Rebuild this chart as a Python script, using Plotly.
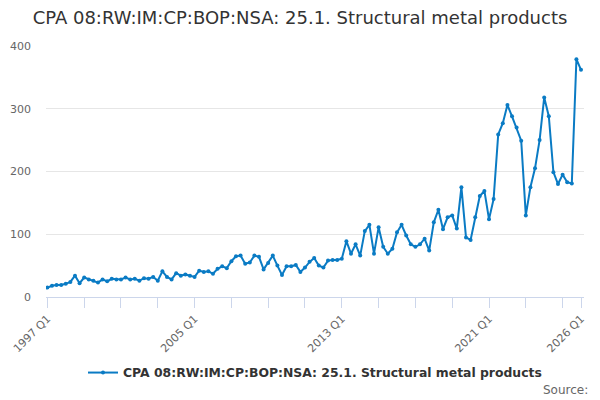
import plotly.graph_objects as go

# quarterly values, 1997 Q1 .. 2026 Q1
values = [
    15, 18, 19, 19, 21, 24, 34, 22, 31, 28,
    26, 23, 28, 25, 29, 28, 28, 31, 28, 29,
    26, 30, 29, 32, 26, 41, 32, 28, 38, 34,
    36, 34, 32, 42, 40, 41, 37, 45, 49, 46,
    57, 65, 66, 53, 55, 66, 64, 44, 54, 66,
    50, 35, 49, 49, 51, 40, 47, 56, 62, 50,
    47, 58, 59, 59, 61, 89, 69, 84, 66, 105,
    115, 69, 111, 80, 69, 77, 103, 115, 98, 84,
    80, 84, 93, 74, 119, 139, 108, 127, 130, 109,
    175, 95, 91, 127, 161, 169, 124, 156, 259, 277,
    306, 288, 270, 249, 130, 175, 205, 250, 318, 288,
    199, 180, 195, 183, 181, 379, 362,
]
start_year = 1997
quarters = [f"{start_year + i // 4} Q{i % 4 + 1}" for i in range(len(values))]
label_quarters = ["1997 Q1", "2005 Q1", "2013 Q1", "2021 Q1", "2026 Q1"]
series_name = "CPA 08:RW:IM:CP:BOP:NSA: 25.1. Structural metal products"

x = list(range(len(values)))
tick_pos = list(range(0, len(values), 8)) + [len(values) - 1]
tick_txt = [quarters[i] if quarters[i] in label_quarters else "" for i in tick_pos]

fig = go.Figure()
fig.add_trace(go.Scatter(
    x=x, y=values, name=series_name, mode="lines+markers",
    line=dict(color="#0a7bc4", width=2),
    marker=dict(color="#0a7bc4", size=4),
))

fig.update_layout(
    width=600, height=400,
    margin=dict(l=46, r=16, t=46, b=103, autoexpand=False),
    paper_bgcolor="white", plot_bgcolor="white",
    font=dict(family="DejaVu Sans", color="#666666", size=11),
    title=dict(text=series_name, x=0.5, xanchor="center",
               yref="container", y=1 - 18 / 400, yanchor="middle",
               font=dict(size=18, color="#333333")),
    showlegend=True,
    legend=dict(orientation="h", x=0.5, xanchor="center",
                yref="container", y=1 - 373 / 400, yanchor="middle",
                itemwidth=30,
                font=dict(size=12.4, color="#333333", weight="bold")),
)
fig.update_xaxes(
    range=[-0.3, len(values) - 0.35], automargin=False,
    tickmode="array", tickvals=tick_pos, ticktext=tick_txt,
    tickangle=-45, ticks="outside", ticklen=10, tickcolor="#ccd6eb",
    showline=True, linecolor="#ccd6eb", showgrid=False, zeroline=False,
    tickfont=dict(size=11, color="#666666"),
)
fig.update_yaxes(
    range=[0, 400], dtick=100, showgrid=True, gridcolor="#e6e6e6", automargin=False,
    zeroline=False, showline=False, ticks="", ticklabelstandoff=14,
    tickfont=dict(size=11, color="#666666"),
)
fig.add_annotation(text="Source:", xref="paper", yref="paper", x=1.0, y=-93 / 251,
                   xanchor="right", yanchor="middle", showarrow=False,
                   xshift=6, font=dict(size=12, color="#666666"))

fig.write_html("out.html", config={"displayModeBar": False},
               post_script="document.body.style.margin = '0';")
